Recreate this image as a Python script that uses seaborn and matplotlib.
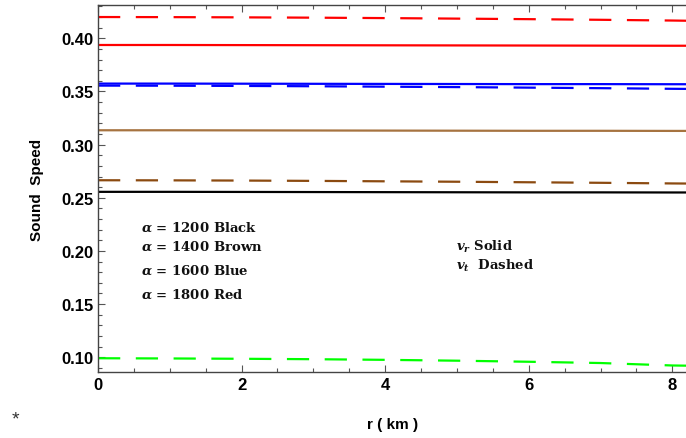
import pandas as pd
import matplotlib
matplotlib.use("Agg")
import matplotlib.pyplot as plt
import matplotlib.ticker as mticker
import seaborn as sns

# ── data ──────────────────────────────────────────────────────────────────
r_km = [0, 1, 2, 3, 4, 5, 6, 7, 8, 8.21]

red_vt   = [0.4200, 0.4199, 0.4197, 0.4194, 0.4190, 0.4185, 0.4180, 0.4174, 0.4167, 0.4165]
red_vr   = [0.3937, 0.3937, 0.3936, 0.3935, 0.3934, 0.3933, 0.3932, 0.3931, 0.3930, 0.3930]
blue_vr  = [0.3574, 0.3574, 0.3573, 0.3572, 0.3571, 0.3570, 0.3569, 0.3569, 0.3568, 0.3568]
blue_vt  = [0.3555, 0.3554, 0.3552, 0.3549, 0.3545, 0.3541, 0.3536, 0.3531, 0.3525, 0.3524]
brown_vr = [0.3135, 0.3135, 0.3134, 0.3133, 0.3132, 0.3131, 0.3130, 0.3130, 0.3129, 0.3129]
brown_vt = [0.2665, 0.2664, 0.2662, 0.2659, 0.2655, 0.2651, 0.2646, 0.2641, 0.2635, 0.2634]
black_vr = [0.2556, 0.2556, 0.2555, 0.2554, 0.2553, 0.2552, 0.2551, 0.2551, 0.2550, 0.2550]
green_vt = [0.0991, 0.0989, 0.0986, 0.0982, 0.0976, 0.0968, 0.0958, 0.0946, 0.0923, 0.0921]

series = {
    "red_vt": (red_vt, "vt"), "red_vr": (red_vr, "vr"),
    "blue_vr": (blue_vr, "vr"), "blue_vt": (blue_vt, "vt"),
    "brown_vr": (brown_vr, "vr"), "brown_vt": (brown_vt, "vt"),
    "black_vr": (black_vr, "vr"), "green_vt": (green_vt, "vt"),
}
colors = {
    "red_vt": "#ff0000", "red_vr": "#ff0000",
    "blue_vr": "#0000ff", "blue_vt": "#0000ff",
    "brown_vr": "#a67340", "brown_vt": "#8b4a10",
    "black_vr": "#000000", "green_vt": "#00ff00",
}

rows = []
for name, (vals, kind) in series.items():
    for x, y in zip(r_km, vals):
        rows.append({"r": x, "speed": y, "series": name, "kind": kind})
df = pd.DataFrame(rows)

sns.set_theme(style="ticks")
plt.rcParams["font.family"] = ["Liberation Sans", "DejaVu Sans"]
plt.rcParams["font.weight"] = "bold"
plt.rcParams["mathtext.fontset"] = "custom"
plt.rcParams["mathtext.it"] = "DejaVu Serif:italic:bold"
plt.rcParams["mathtext.rm"] = "DejaVu Serif:bold"

fig = plt.figure(figsize=(6.86, 4.39), dpi=100)
ax = fig.add_axes([0.1429, 0.1497, 0.8591, 0.8366])

sns.lineplot(data=df, x="r", y="speed", hue="series", style="kind",
             palette=colors, dashes={"vr": "", "vt": (10, 7)},
             linewidth=1.6, legend=False, ax=ax)

ax.set_xlim(0, 8.21)
ax.set_ylim(0.0859, 0.4313)
ax.xaxis.set_major_locator(mticker.MultipleLocator(2))
ax.xaxis.set_minor_locator(mticker.MultipleLocator(0.5))
ax.yaxis.set_major_locator(mticker.MultipleLocator(0.05))
ax.yaxis.set_minor_locator(mticker.MultipleLocator(0.01))
ax.yaxis.set_major_formatter(mticker.StrMethodFormatter("{x:.2f}"))
ax.tick_params(which="both", direction="in", top=True, right=False,
               color="#555555", width=0.8, labelcolor="black")
ax.tick_params(which="major", length=5)
ax.tick_params(which="minor", length=3)
ax.tick_params(axis="both", labelsize=12)
for side in ["left", "bottom", "top"]:
    ax.spines[side].set_color("#444444")
    ax.spines[side].set_linewidth(1.0)
ax.spines["right"].set_visible(False)

ax.set_xlabel("r ( km )", fontsize=11, fontweight="bold", labelpad=18, color="black")
ax.set_ylabel("Sound  Speed", fontsize=11, fontweight="bold", labelpad=12, color="black")

txt = dict(family="DejaVu Serif", fontweight="bold", fontsize=9.5, va="center",
           color="#111111")
ax.text(0.60, 0.2227, r"$\alpha$ = 1200 Black", **txt)
ax.text(0.60, 0.2049, r"$\alpha$ = 1400 Brown", **txt)
ax.text(0.60, 0.1823, r"$\alpha$ = 1600 Blue", **txt)
ax.text(0.60, 0.1598, r"$\alpha$ = 1800 Red", **txt)
ax.text(4.99, 0.2050, r"$v_r$ Solid", **txt)
ax.text(4.99, 0.1870, r"$v_t$  Dashed", **txt)

fig.text(15 / 686, 1 - 420 / 439, "*", fontsize=14, color="#333333",
         ha="center", va="center", fontweight="normal")

fig.savefig("out.png", dpi=100)
plt.close(fig)
